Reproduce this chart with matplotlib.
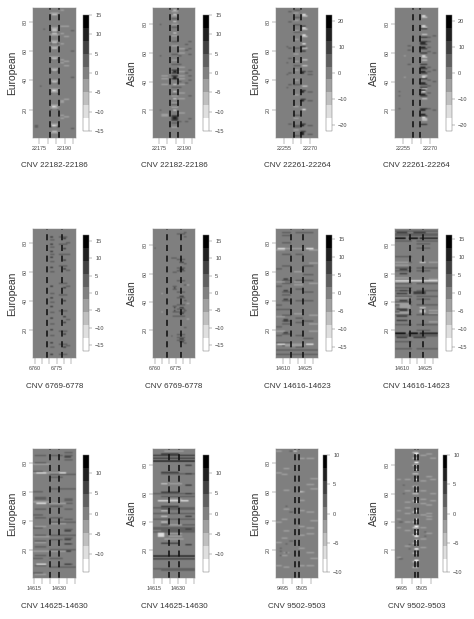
import numpy as np
import matplotlib
matplotlib.use("Agg")
import matplotlib.pyplot as plt
from matplotlib.colors import ListedColormap, BoundaryNorm

plt.rcParams['font.family'] = ['Liberation Sans', 'DejaVu Sans']

# Each entry: value, first column, last column, rows
eu_22182 = [
    (-3, 22182, 22186, [86, 76, 71, 67, 63, 56, 48, 40, 34, 32, 23, 21, 10, 4]),
    (-6, 22183, 22185, [85, 75, 74, 72, 66, 62, 55, 47, 39, 33, 22, 9, 5]),
    (-11, 22183, 22184, [33, 22, 9]),
    (3, 22182, 22182, [73, 65, 54, 46, 38, 31, 20, 8]),
    (3, 22186, 22186, [73, 65, 54, 46, 38, 31, 20, 8]),
    (-4, 22188, 22189, [88, 77, 72, 65, 54, 52, 26, 25, 16, 14]),
    (-3, 22190, 22192, [77, 70, 53, 50, 27, 15]),
    (3, 22173, 22174, [8, 9]),
    (3, 22178, 22178, [75]),
    (3, 22194, 22195, [74, 60, 42, 7]),
    (3, 22176, 22176, [36]),
]
as_22182 = [
    (-3, 22183, 22186, [89, 86, 80, 72, 65, 55, 44, 30, 25, 22, 8]),
    (-7, 22184, 22185, [90, 87, 82, 74, 38, 33, 28, 20]),
    (6, 22183, 22186, [48, 46, 44, 42, 16, 15, 14, 13]),
    (11, 22184, 22185, [47, 43, 42, 15, 14]),
    (3, 22183, 22186, [84, 78, 68, 59, 52, 36, 31, 24, 11]),
    (-3, 22187, 22190, [63, 60, 50, 47, 44, 42, 38, 32, 28, 18]),
    (3, 22187, 22188, [58, 52, 40, 36, 12]),
    (3, 22193, 22194, [68, 63, 59, 48, 44, 41, 30, 14]),
    (-3, 22177, 22180, [44, 42, 38, 17, 16]),
    (3, 22176, 22176, [80, 58, 20]),
    (3, 22191, 22192, [66, 62, 46, 39, 12]),
]
eu_22261 = [
    (5, 22261, 22264, [88, 83, 78, 73, 62, 50, 37, 16, 9, 8, 2]),
    (-5, 22261, 22263, [86, 81, 74, 68, 58, 53, 47, 40, 30, 22, 14, 6]),
    (13, 22265, 22266, [4, 3, 9, 26, 32, 45]),
    (8, 22265, 22267, [10, 33, 27, 46, 63, 77, 60, 5]),
    (-13, 22266, 22267, [85, 76, 71, 65, 20]),
    (-8, 22266, 22268, [84, 75, 70, 62, 54, 50, 36]),
    (4, 22269, 22271, [46, 44, 32, 26, 9, 3]),
    (4, 22258, 22259, [87, 80, 62, 55, 45, 37, 10]),
    (3, 22257, 22257, [63, 52, 44, 35]),
]
as_22261 = [
    (13, 22265, 22267, [67, 64, 50, 47, 39, 34, 31, 20, 17]),
    (8, 22265, 22268, [77, 71, 68, 66, 63, 60, 52, 49, 46, 42, 38, 36, 30, 21, 16, 10]),
    (-13, 22266, 22267, [86, 79, 58, 43, 33, 15]),
    (-8, 22266, 22268, [85, 78, 73, 57, 55, 44, 35, 28, 14, 13]),
    (5, 22269, 22270, [71, 68, 64, 61, 50, 47, 41, 37, 32, 21]),
    (4, 22272, 22273, [72, 60, 48, 40, 20]),
    (-5, 22256, 22256, [58, 43]),
    (4, 22253, 22253, [33, 30, 21]),
    (4, 22258, 22259, [65, 62, 52]),
]
eu_6769 = [
    (7, 6771, 6772, [84, 79, 74, 70, 63, 50, 42, 36, 28, 20, 11, 3]),
    (4, 6771, 6773, [82, 77, 72, 67, 60, 45, 39, 32, 24, 16, 8]),
    (7, 6780, 6781, [83, 76, 68, 62, 49, 40, 29, 25, 17, 8]),
    (4, 6777, 6782, [84, 79, 72, 64, 52, 44, 33, 19, 10, 3]),
    (4, 6782, 6784, [80, 72, 61, 50, 27, 9]),
]
as_6769 = [
    (7, 6778, 6780, [68, 63, 44, 36, 32, 14, 12]),
    (4, 6776, 6781, [88, 70, 64, 62, 55, 47, 43, 38, 35, 33, 30, 17, 15, 13]),
    (4, 6773, 6775, [71, 61, 51, 49, 37, 33, 30]),
    (8, 6774, 6774, [50, 36, 34]),
    (4, 6781, 6782, [89, 86, 67, 52, 41, 34, 22, 11]),
    (-3, 6765, 6765, [46, 33]),
    (-3, 6783, 6784, [52, 39, 28]),
    (3, 6760, 6760, [78]),
    (3, 6772, 6772, [16, 71]),
]
eu_14616 = [
    (3, 14610, 14615, [87, 85, 80, 72, 64, 54, 52, 46, 44, 40, 34, 30, 26, 24, 17, 11, 9]),
    (6, 14611, 14613, [55, 47, 27, 26, 18, 41]),
    (3, 14619, 14623, [87, 72, 54, 48, 40, 28, 25, 16, 8]),
    (-3, 14606, 14611, [75, 53, 29, 19, 10]),
    (-10, 14607, 14611, [10, 76]),
    (-5, 14612, 14624, [76, 10, 9]),
    (-10, 14626, 14630, [76, 10]),
    (-4, 14618, 14623, [53, 51, 31, 60]),
    (3, 14624, 14630, [87, 64, 58, 54, 46, 40, 26, 14]),
    (-3, 14628, 14633, [75, 66, 52, 30, 24, 19]),
    (3, 14606, 14633, [6, 3]),
    (3, 14606, 14609, [62, 50, 37, 34, 22, 16, 11]),
]
as_14616 = [
    (4, 14606, 14633, [90, 88, 87, 17, 16]),
    (14, 14606, 14612, [85, 18]),
    (14, 14615, 14620, [85, 18]),
    (10, 14622, 14633, [85, 18]),
    (7, 14607, 14613, [89, 46, 35, 30, 27, 15]),
    (7, 14618, 14625, [89, 47, 15, 46]),
    (3, 14606, 14616, [83, 72, 68, 64, 62, 53, 50, 48, 44, 40, 38, 33, 31, 24, 12, 7]),
    (3, 14620, 14633, [83, 64, 53, 44, 38, 31, 24, 7, 48]),
    (8, 14609, 14613, [63, 60, 48, 41, 38, 34]),
    (-9, 14606, 14633, [55]),
    (-3, 14606, 14614, [68, 66, 57, 54, 43, 39, 32]),
    (-5, 14609, 14615, [38, 37, 36, 33]),
    (-6, 14622, 14625, [36, 34, 33, 68]),
    (-4, 14628, 14633, [68, 56, 34, 32, 26]),
    (4, 14620, 14628, [81, 78, 62, 42, 20]),
]
eu_14625 = [
    (3, 14616, 14622, [85, 80, 56, 55, 48, 42, 36, 30, 26, 22, 16, 9]),
    (3, 14634, 14638, [87, 85, 82, 55, 54, 52, 48, 41, 34, 30, 28, 24, 20, 10]),
    (7, 14634, 14637, [84, 33, 27, 24, 19, 10]),
    (-4, 14615, 14624, [79, 73, 53, 29, 19]),
    (-10, 14617, 14622, [10, 73, 52]),
    (-4, 14625, 14634, [73, 52, 19, 38]),
    (-8, 14631, 14634, [73]),
    (3, 14625, 14640, [72, 62, 39, 30, 20, 8]),
    (3, 14615, 14620, [74, 60, 44, 35, 14, 4]),
    (-3, 14616, 14622, [36, 29, 25, 3]),
    (3, 14625, 14632, [85, 70, 50, 42, 27, 14]),
]
as_14625 = [
    (5, 14615, 14640, [87, 85, 14]),
    (11, 14615, 14640, [83]),
    (8, 14615, 14640, [16]),
    (3, 14615, 14640, [60, 50, 46, 42, 36, 35, 33, 7]),
    (3, 14620, 14640, [74, 58, 49, 38, 34, 6]),
    (7, 14620, 14630, [88, 75, 61, 51, 25]),
    (-11, 14618, 14630, [55]),
    (-9, 14632, 14636, [55]),
    (-5, 14620, 14623, [67, 48, 44, 40]),
    (-9, 14618, 14621, [32, 31, 30]),
    (-4, 14625, 14632, [67, 56, 38, 32, 30]),
    (5, 14635, 14638, [80, 74, 66, 60, 44, 35, 24]),
    (-3, 14622, 14633, [28, 90]),
]
eu_9502 = [
    (-3, 9492, 9494, [88, 73, 39, 25, 9]),
    (-3, 9496, 9498, [76, 61, 48, 33, 18, 8]),
    (-3, 9504, 9506, [83, 60, 54, 47, 36, 30, 21, 9]),
    (-3, 9508, 9511, [83, 65, 46, 35, 31, 18, 9]),
    (-5, 9504, 9505, [60]),
    (-5, 9501, 9502, [88]),
    (-3, 9495, 9497, [72, 28, 41, 16]),
    (3, 9494, 9494, [21, 16, 19]),
    (3, 9497, 9497, [18, 24, 50]),
    (3, 9499, 9500, [88, 26, 46]),
    (-3, 9510, 9513, [69, 62, 40, 14]),
]
as_9502 = [
    (-9, 9502, 9503, [88, 82, 77, 70, 62, 54, 48, 42, 37, 33, 30, 27, 21, 13]),
    (-4, 9501, 9503, [89, 85, 80, 74, 65, 60, 55, 47, 40, 36, 31, 25, 18, 12, 8]),
    (-3, 9497, 9499, [70, 62, 54, 50, 46, 40, 34, 23]),
    (-3, 9505, 9507, [87, 69, 62, 56, 53, 45, 36, 28, 22]),
    (-3, 9508, 9510, [88, 72, 52, 46, 44, 42, 32]),
    (-3, 9493, 9494, [70, 48, 42, 36, 15]),
    (-3, 9510, 9512, [85, 70, 60, 55]),
    (3, 9496, 9496, [66, 60]),
    (3, 9494, 9495, [14, 40]),
    (3, 9507, 9507, [33, 30]),
    (3, 9499, 9499, [21, 24]),
]

titles = ["CNV 22182-22186", "CNV 22182-22186", "CNV 22261-22264", "CNV 22261-22264",
          "CNV 6769-6778", "CNV 6769-6778", "CNV 14616-14623", "CNV 14616-14623",
          "CNV 14625-14630", "CNV 14625-14630", "CNV 9502-9503", "CNV 9502-9503"]
populations = ["European", "Asian"] * 6
cells = [eu_22182, as_22182, eu_22261, as_22261, eu_6769, as_6769,
         eu_14616, as_14616, eu_14625, as_14625, eu_9502, as_9502]
col_first = [22172, 22172, 22251, 22251, 6759, 6759, 14606, 14606, 14615, 14615, 9492, 9492]
col_last = [22196, 22196, 22274, 22274, 6788, 6788, 14633, 14633, 14640, 14640, 9513, 9513]
cnv_left = [22181.5, 22181.5, 22260.5, 22260.5, 6768.5, 6768.5, 14615.5, 14615.5, 14624.5, 14624.5, 9501.5, 9501.5]
cnv_right = [22186.5, 22186.5, 22264.5, 22264.5, 6778.5, 6778.5, 14623.5, 14623.5, 14630.5, 14630.5, 9503.5, 9503.5]
limits = [15, 15, 22.5, 22.5, 16.7, 16.7, 16, 16, 14.3, 14.3, 10, 10]
bar_ticks = [[-15, -10, -5, 0, 5, 10, 15]] * 2 + [[-20, -10, 0, 10, 20]] * 2 + \
            [[-15, -10, -5, 0, 5, 10, 15]] * 4 + [[-10, -5, 0, 5, 10]] * 4
x_ticklabels = [[22175, 22190], [22175, 22190], [22255, 22270], [22255, 22270],
                [6760, 6775], [6760, 6775], [14610, 14625], [14610, 14625],
                [14615, 14630], [14615, 14630], [9495, 9505], [9495, 9505]]

W, H = 474, 619
GREYS = np.linspace(1, 0, 9)
TXT = '#444444'
fig = plt.figure(figsize=(W / 100, H / 100), dpi=100, facecolor='white')


def frame(x0, x1, y0, y1):
    return fig.add_axes([x0 / W, 1 - y1 / H, (x1 - x0) / W, (y1 - y0) / H])


col_x = [(33, 76), (153, 195), (276, 318), (395, 438)]
bar_x = [(83, 89), (203, 209), (326, 332), (446, 452)]
row_y = [(8, 138), (229, 358), (449, 578)]
bar_y = [(15, 131), (235, 351), (455, 572)]
label_y = [(150, 166), (371, 386), (590.5, 606)]

cmap = ListedColormap([(g, g, g) for g in GREYS])
for i in range(12):
    r, c = i // 4, i % 4
    n_rows = 89 if c % 2 == 0 else 91
    first, last = col_first[i], col_last[i]
    mat = np.zeros((n_rows, last - first + 1))
    for val, c0, c1, rws in cells[i]:
        for rw in rws:
            mat[rw - 1, c0 - first:c1 - first + 1] = val
    lim = limits[i]
    norm = BoundaryNorm(np.linspace(-lim, lim, 10), 9)
    ax = frame(*col_x[c], *row_y[r])
    im = ax.imshow(mat, origin='lower', aspect='auto', cmap=cmap, norm=norm,
                   extent=(first - .5, last + .5, .5, n_rows + .5),
                   interpolation='gaussian', interpolation_stage='rgba')
    for xv in (cnv_left[i], cnv_right[i]):
        ax.axvline(xv, color='#111111', lw=1.15, dashes=(3.8, 2.9))
    for s in ax.spines.values():
        s.set_linewidth(.35)
        s.set_color('#888888')
    ticks = np.arange(np.ceil(first / 5) * 5, last + 1, 5)
    ax.set_xticks(ticks)
    shown = x_ticklabels[i]
    ax.set_xticklabels([str(int(t)) if int(t) in shown else '' for t in ticks],
                       fontsize=3.9, color=TXT)
    ax.tick_params(axis='x', length=4.5, width=.35, color='#777777', pad=1.4)
    ax.set_yticks([20, 40, 60, 80])
    ax.set_yticklabels(['20', '40', '60', '80'], rotation=90, va='center', fontsize=3.9, color=TXT)
    ax.tick_params(axis='y', length=2.6, width=.35, color='#777777', pad=1.2)
    lx = col_x[c][0] - 21
    fig.text(lx / W, 1 - (row_y[r][0] + row_y[r][1]) / 2 / H, populations[i], rotation=90,
             ha='center', va='center', fontsize=7.4, color='#333333')
    fig.text((col_x[c][0] + col_x[c][1]) / 2 / W, 1 - label_y[r][1] / H, titles[i],
             ha='center', va='center', fontsize=5.8, color='#333333')
    bx = bar_x[c]
    if r == 2 and c >= 2:
        bx = (bx[0] - 3, bx[1] - 5)
    cax = frame(*bx, *bar_y[r])
    cb = fig.colorbar(im, cax=cax, boundaries=np.linspace(-lim, lim, 10), spacing='proportional')
    cb.set_ticks(bar_ticks[i])
    cb.set_ticklabels([str(t).replace('-', '\u2212') for t in bar_ticks[i]])
    cb.ax.minorticks_off()
    cb.ax.tick_params(length=2.4, width=.35, color='#777777', labelsize=4.1, labelcolor=TXT, pad=2.0)
    cb.outline.set_linewidth(.35)
    cb.outline.set_edgecolor('#777777')

fig.savefig('out.png', dpi=100, facecolor='white')
